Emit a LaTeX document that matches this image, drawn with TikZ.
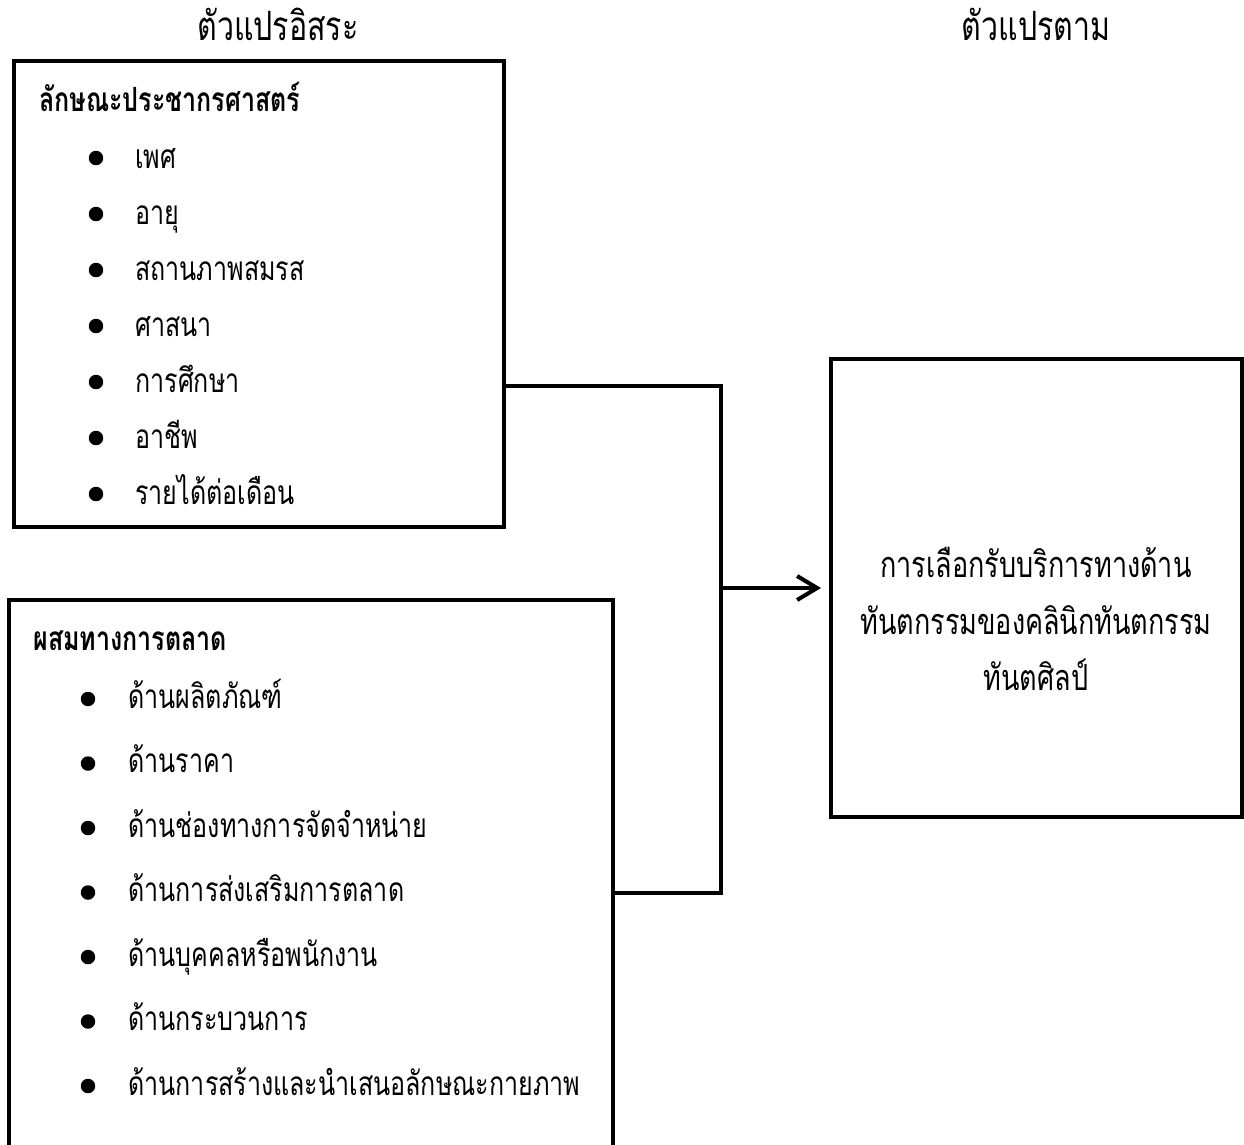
\documentclass[tikz,border=0pt]{standalone}
\usepackage{fontspec}
\setmainfont[Script=Thai,FakeStretch=0.75]{Loma}
\usetikzlibrary{positioning, arrows.meta}
\tikzset{frame/.style={draw,line width=2.3pt,inner sep=0pt},
         conn/.style={line width=2.3pt},
         arr/.style={line width=2.3pt,shorten >=1.6mm,-{Straight Barb[length=4mm,width=4.8mm]}},
         bul/.style={circle,fill,inner sep=0pt,minimum size=2.9mm},
         item/.style={anchor=base west,inner sep=0pt,font=\fontsize{19}{22}\selectfont},
         head/.style={anchor=base west,inner sep=0pt,font=\fontsize{19}{22}\selectfont\bfseries},
         title/.style={anchor=base,inner sep=0pt,font=\fontsize{23}{26}\selectfont},
        }

\begin{document}
\begin{tikzpicture}[x=0.02cm,y=-0.02cm]
        \useasboundingbox (0,0) rectangle (1244,1144);

        \node[title](ind)at(278,40){ตัวแปรอิสระ};
        \node[title](dpt)at(1036,40){ตัวแปรตาม};

        \node[frame,minimum width=9.8cm,minimum height=9.32cm](demo)at(259,294){};
        \node[frame,minimum width=12.08cm,minimum height=11.2cm](mix)at(311,880){};
        \node[frame,minimum width=8.22cm,minimum height=9.16cm](dep)at(1036.5,588){};

        \node[head](hd)at(39,111){ลักษณะประชากรศาสตร์};
        \foreach \t [count=\i] in {เพศ,อายุ,สถานภาพสมรส,ศาสนา,การศึกษา,อาชีพ,รายได้ต่อเดือน}{
            \node[bul](db\i)at(96,158+56*\i-56){};
            \node[item](dt\i)at(135,168+56*\i-56){\t};
        }

        \node[head](hm)at(33,650){ผสมทางการตลาด};
        \foreach \t [count=\i] in {ด้านผลิตภัณฑ์,ด้านราคา,ด้านช่องทางการจัดจำหน่าย,ด้านการส่งเสริมการตลาด,ด้านบุคคลหรือพนักงาน,ด้านกระบวนการ,ด้านการสร้างและนำเสนอลักษณะกายภาพ}{
            \node[bul](mb\i)at(88,699+64.5*\i-64.5){};
            \node[item](mt\i)at(128,708+64.5*\i-64.5){\t};
        }

        \node[align=center,inner sep=0pt,font=\fontsize{20.5}{32.4}\selectfont](dl)at(1036,619){การเลือกรับบริการทางด้าน\\ทันตกรรมของคลินิกทันตกรรม\\ทันตศิลป์};

        \coordinate(jn)at(721,588);
        \draw[conn](demo.east|-0,386)-|(jn)|-(mix.east|-0,893);
        \draw[arr](jn)--(dep.west);
    \end{tikzpicture}
\end{document}
